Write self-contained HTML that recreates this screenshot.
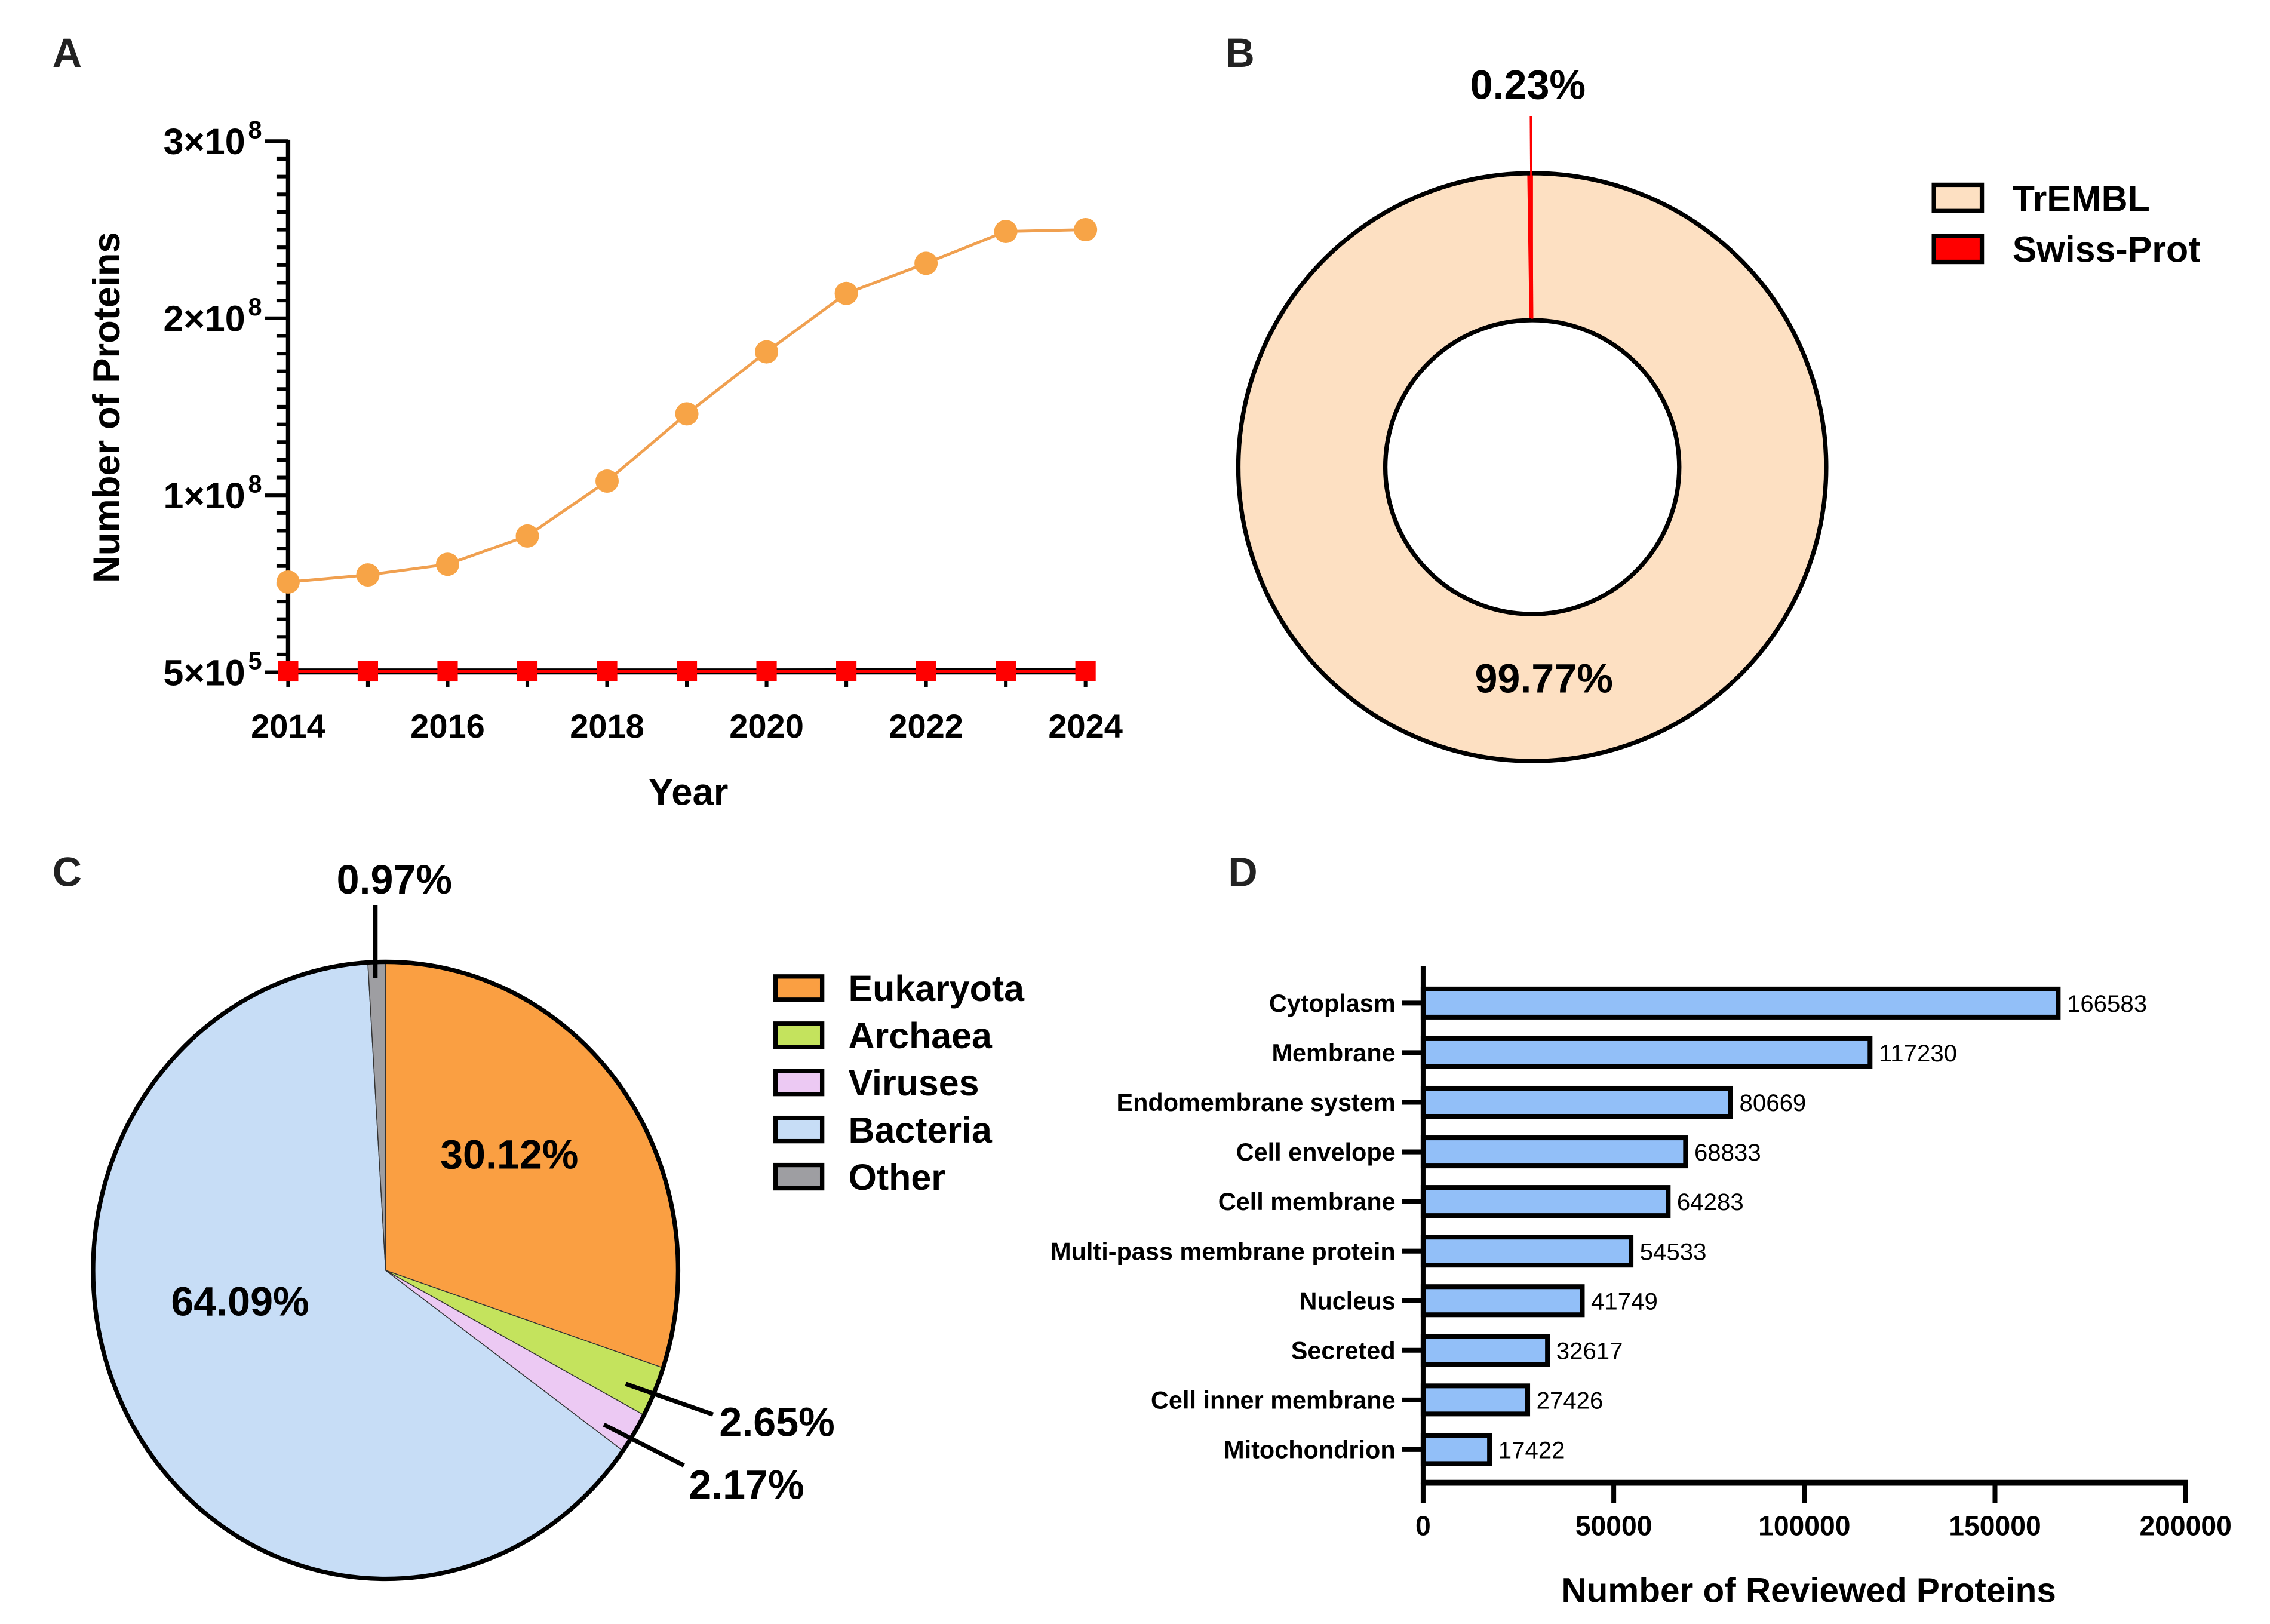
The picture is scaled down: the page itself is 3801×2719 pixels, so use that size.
<!DOCTYPE html>
<html><head><meta charset="utf-8"><style>
html,body{margin:0;padding:0;background:#fff;}
svg{display:block;font-family:"Liberation Sans",sans-serif;}
</style></head><body>
<svg id="fig" width="3801" height="2719" viewBox="0 0 1560 1116" preserveAspectRatio="none" xmlns="http://www.w3.org/2000/svg">
<g font-family="Liberation Sans, sans-serif" font-weight="bold" font-size="28" fill="#222">
<text x="36" y="46">A</text>
<text x="842" y="46">B</text>
<text x="36" y="609">C</text>
<text x="844" y="609">D</text>
</g>
<g id="pa"></g>
<g id="pb"></g>
<g id="pc"></g>
<g id="pd"></g>
</svg>
<script>
// ---- Panel A data ----
const years = [2014,2015,2016,2017,2018,2019,2020,2021,2022,2023,2024];
const tremblCounts = [5.1e7,5.5e7,6.1e7,7.7e7,1.08e8,1.46e8,1.81e8,2.14e8,2.31e8,2.49e8,2.50e8];
const swissCounts = [5.5e5,5.5e5,5.5e5,5.6e5,5.6e5,5.6e5,5.6e5,5.7e5,5.7e5,5.7e5,5.7e5];
const yTickValues = [0,1e8,2e8,3e8];
const yTickMantissa = ["5","1","2","3"];
const yTickExponent = ["5","8","8","8"];
const xTickYears = [2014,2016,2018,2020,2022,2024];
// ---- Panel B data ----
const donutLabels = ["TrEMBL","Swiss-Prot"];
const donutValues = [99.77,0.23];
// ---- Panel C data ----
const pieLabels = ["Eukaryota","Archaea","Viruses","Bacteria","Other"];
const pieValues = [30.12,2.65,2.17,64.09,0.97];
// ---- Panel D data ----
const locCategories = ["Cytoplasm","Membrane","Endomembrane system","Cell envelope","Cell membrane","Multi-pass membrane protein","Nucleus","Secreted","Cell inner membrane","Mitochondrion"];
const locCounts = [166583,117230,80669,68833,64283,54533,41749,32617,27426,17422];
const xTicksD = [0,50000,100000,150000,200000];

const NS="http://www.w3.org/2000/svg";
function mk(parent,tag,attrs,text){const e=document.createElementNS(NS,tag);for(const k in attrs)e.setAttribute(k,attrs[k]);if(text!==undefined)e.textContent=text;parent.appendChild(e);return e;}
const F='"Liberation Sans", sans-serif';

// ===== Panel A =====
(function(){
 const g=document.getElementById('pa');
 const x0=198,x1=746,y0=462,y1=97;
 const xs=v=>x0+(v-2014)/(2024-2014)*(x1-x0);
 const ys=v=>y0-(v/3e8)*(y0-y1);
 let e;
 e=mk(g,'line',{x1:x0,y1:y1-1,x2:x0,y2:y0,stroke:'#000','stroke-width':3});
 
 
 e=mk(g,'line',{x1:x0,y1:y0,x2:x1+2,y2:y0,stroke:'#000','stroke-width':3});
 
 
 for(let i=0;i<=30;i++){const v=i*1e7;const major=(i%10===0);
   mk(g,'line',{x1:x0-(major?16:8),x2:x0,y1:ys(v),y2:ys(v),stroke:'#000','stroke-width':2.5});}
 yTickValues.forEach((v,i)=>{
   const t=mk(g,'text',{x:180,y:ys(v)+9,'text-anchor':'end','font-family':F,'font-weight':'bold','font-size':25});
   
   
   mk(t,'tspan',{},yTickMantissa[i]+'×10');
   mk(t,'tspan',{dy:-11,dx:2,'font-size':17},yTickExponent[i]);
 });
 years.forEach(yv=>mk(g,'line',{x1:xs(yv),x2:xs(yv),y1:y0,y2:y0+10,stroke:'#000','stroke-width':2.5}));
 xTickYears.forEach(yv=>{const t=mk(g,'text',{x:xs(yv),y:507,'text-anchor':'middle','font-family':F,'font-weight':'bold','font-size':23},String(yv));
   
   });
 e=mk(g,'text',{x:473,y:553,'text-anchor':'middle','font-family':F,'font-weight':'bold','font-size':26},'Year');
 
 
 e=mk(g,'text',{x:0,y:0,transform:'translate(82,280) rotate(-90)','text-anchor':'middle','font-family':F,'font-weight':'bold','font-size':26},'Number of Proteins');
 
 
 const pts=years.map((yv,i)=>xs(yv)+','+ys(tremblCounts[i])).join(' ');
 e=mk(g,'polyline',{points:pts,fill:'none',stroke:'#f0a050','stroke-width':2});
 
 
 years.forEach((yv,i)=>{const c=mk(g,'circle',{cx:xs(yv),cy:ys(tremblCounts[i]),r:8,fill:'#f7a447'});
   
   });
 const pts2=years.map((yv,i)=>xs(yv)+','+ys(swissCounts[i])).join(' ');
 mk(g,'polyline',{points:pts2,fill:'none',stroke:'#000','stroke-width':4});
 e=mk(g,'polyline',{points:pts2,fill:'none',stroke:'#ff0000','stroke-width':2});
 
 
 years.forEach((yv,i)=>{const r=mk(g,'rect',{x:xs(yv)-7,y:ys(swissCounts[i])-7,width:14,height:14,fill:'#ff0000'});
   
   });
})();

// ===== Panel B =====
(function(){
 const g=document.getElementById('pb');
 const cx=1053,cy=321,ro=202,ri=101;
 const colors=['#fde0c2','#ff0000'];
 const total=donutValues.reduce((a,b)=>a+b,0);
 let ang=-Math.PI/2;
 [0,1].forEach(i=>{
   const a0=ang,a1=ang+donutValues[i]/total*2*Math.PI;ang=a1;
   const large=(a1-a0)>Math.PI?1:0;
   const p=[cx+ro*Math.cos(a0),cy+ro*Math.sin(a0),cx+ro*Math.cos(a1),cy+ro*Math.sin(a1),cx+ri*Math.cos(a1),cy+ri*Math.sin(a1),cx+ri*Math.cos(a0),cy+ri*Math.sin(a0)];
   const d=`M${p[0]},${p[1]} A${ro},${ro} 0 ${large} 1 ${p[2]},${p[3]} L${p[4]},${p[5]} A${ri},${ri} 0 ${large} 0 ${p[6]},${p[7]} Z`;
   const s=mk(g,'path',{d:d,fill:colors[i],stroke:i===1?'#ff0000':'none','stroke-width':1});
   
   
 });
 mk(g,'circle',{cx:cx,cy:cy,r:ro,fill:'none',stroke:'#000','stroke-width':3});
 mk(g,'circle',{cx:cx,cy:cy,r:ri,fill:'#fff',stroke:'#000','stroke-width':3});
 let e=mk(g,'line',{x1:cx-1,y1:80,x2:cx,y2:cy-ri-1,stroke:'#ff0000','stroke-width':1.5});
 
 
 e=mk(g,'text',{x:1050,y:68,'text-anchor':'middle','font-family':F,'font-weight':'bold','font-size':28},donutValues[1].toFixed(2)+'%');
 
 
 e=mk(g,'text',{x:1061,y:476,'text-anchor':'middle','font-family':F,'font-weight':'bold','font-size':28},donutValues[0].toFixed(2)+'%');
 
 
 donutLabels.forEach((l,i)=>{
   const y=136+i*35;
   const r=mk(g,'rect',{x:1329,y:y-9,width:33,height:18,fill:colors[i],stroke:'#000','stroke-width':3});
   
   
   const t=mk(g,'text',{x:1383,y:y+9,'font-family':F,'font-weight':'bold','font-size':25},l);
   
   
 });
})();

// ===== Panel C =====
(function(){
 const g=document.getElementById('pc');
 const cx=265,cy=873,rx=201,ry=212;
 const colors=['#fa9f42','#c4e35d','#ecc9f3','#c7ddf6','#9e9ea2'];
 const total=pieValues.reduce((a,b)=>a+b,0);
 let ang=-Math.PI/2;
 pieValues.forEach((v,i)=>{
   const a0=ang,a1=ang+v/total*2*Math.PI;ang=a1;
   const large=(a1-a0)>Math.PI?1:0;
   const d=`M${cx},${cy} L${cx+rx*Math.cos(a0)},${cy+ry*Math.sin(a0)} A${rx},${ry} 0 ${large} 1 ${cx+rx*Math.cos(a1)},${cy+ry*Math.sin(a1)} Z`;
   const s=mk(g,'path',{d:d,fill:colors[i],stroke:'#333','stroke-width':0.6});
   
   
 });
 mk(g,'ellipse',{cx:cx,cy:cy,rx:rx,ry:ry,fill:'none',stroke:'#000','stroke-width':3});
 const lbl=(x,y,txt,name)=>{const t=mk(g,'text',{x:x,y:y,'text-anchor':'middle','font-family':F,'font-weight':'bold','font-size':28},txt);
   
   };
 lbl(350,803,pieValues[0].toFixed(2)+'%','eukaryota-percent-label');
 lbl(165,904,pieValues[3].toFixed(2)+'%','bacteria-percent-label');
 lbl(271,614,pieValues[4].toFixed(2)+'%','other-percent-label');
 lbl(534,987,pieValues[1].toFixed(2)+'%','archaea-percent-label');
 lbl(513,1030,pieValues[2].toFixed(2)+'%','viruses-percent-label');
 mk(g,'line',{x1:258,y1:622,x2:258,y2:672,stroke:'#000','stroke-width':3});
 mk(g,'line',{x1:430,y1:951,x2:490,y2:972,stroke:'#000','stroke-width':3});
 mk(g,'line',{x1:415,y1:979,x2:470,y2:1007,stroke:'#000','stroke-width':3});
 pieLabels.forEach((l,i)=>{
   const y=679+i*32.4;
   const r=mk(g,'rect',{x:533,y:y-8,width:32,height:16,fill:colors[i],stroke:'#000','stroke-width':3});
   
   
   const t=mk(g,'text',{x:583,y:y+9,'font-family':F,'font-weight':'bold','font-size':25},l);
   
   
 });
})();

// ===== Panel D =====
(function(){
 const g=document.getElementById('pd');
 const x0=978,x1=1502,yAxisBottom=1019,yTop=664,firstY=689.3,step=34.09,bh=19.3;
 const xs=v=>x0+v/200000*(x1-x0);
 locCategories.forEach((c,i)=>{
   const yc=firstY+i*step;
   const r=mk(g,'rect',{x:x0,y:yc-bh/2,width:xs(locCounts[i])-x0,height:bh,fill:'#92bff8',stroke:'#000','stroke-width':3.3});
   
   
   const v=mk(g,'text',{x:xs(locCounts[i])+6,y:yc+6,'font-family':F,'font-size':16.5},String(locCounts[i]));
   
   
   const t=mk(g,'text',{x:959,y:yc+6,'text-anchor':'end','font-family':F,'font-weight':'bold','font-size':17},c);
   
   
   mk(g,'line',{x1:963.5,x2:x0,y1:yc,y2:yc,stroke:'#000','stroke-width':3.3});
 });
 let e=mk(g,'line',{x1:x0,y1:yTop,x2:x0,y2:yAxisBottom+1,stroke:'#000','stroke-width':3.3});
 
 
 e=mk(g,'line',{x1:x0-1.6,y1:yAxisBottom,x2:x1+1.6,y2:yAxisBottom,stroke:'#000','stroke-width':4});
 
 
 xTicksD.forEach(v=>{
   mk(g,'line',{x1:xs(v),x2:xs(v),y1:yAxisBottom,y2:yAxisBottom+14,stroke:'#000','stroke-width':3.3});
   const t=mk(g,'text',{x:xs(v),y:1055,'text-anchor':'middle','font-family':F,'font-weight':'bold','font-size':19},String(v));
   
   
 });
 e=mk(g,'text',{x:1243,y:1101,'text-anchor':'middle','font-family':F,'font-weight':'bold','font-size':24},'Number of Reviewed Proteins');
 
 
})();
</script>
</body></html>
